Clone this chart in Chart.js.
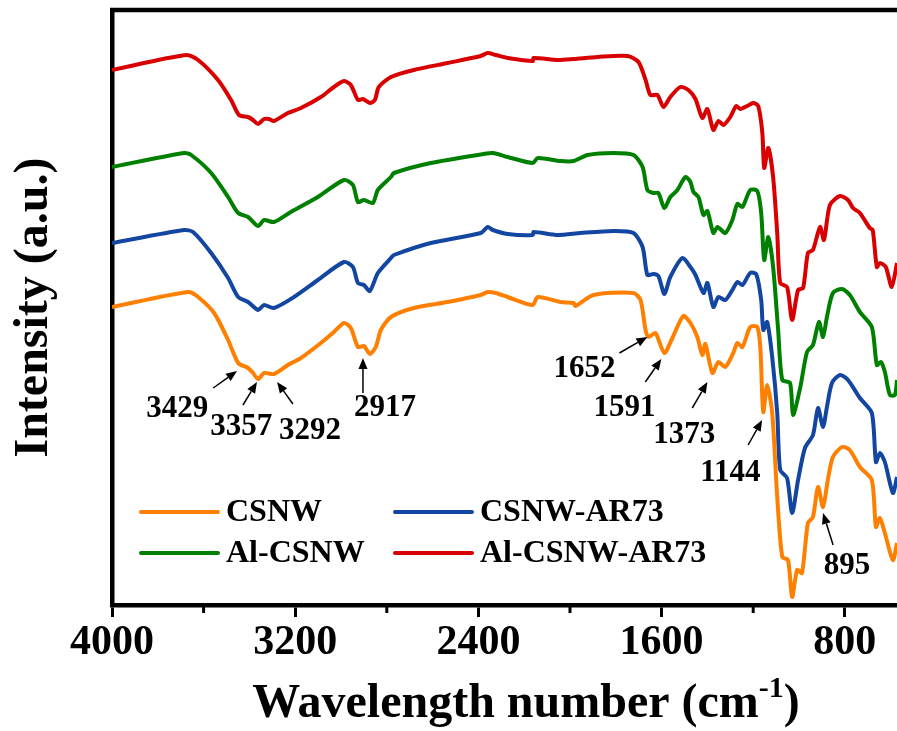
<!DOCTYPE html>
<html>
<head>
<meta charset="utf-8">
<script src="https://cdn.jsdelivr.net/npm/chart.js@4.4.1/dist/chart.umd.min.js"></script>
<style>
  html, body { margin: 0; padding: 0; background: #fff; }
</style>
</head>
<body>
<canvas id="ftirChart" width="897" height="731"></canvas>
<script>
// tick values on the wavenumber axis (labels only every 800)
const wavenumberTicks = [4000, 3600, 3200, 2800, 2400, 2000, 1600, 1200, 800];

// spectra (wavenumber cm-1 / intensity a.u.)
const csnwWave = [4000, 3667, 3624, 3554, 3493, 3449, 3406, 3384, 3362, 3336, 3293, 3232, 3175, 3088, 3031, 2987, 2957, 2926, 2900, 2874, 2848, 2826, 2782, 2682, 2534, 2390, 2359, 2324, 2272, 2163, 2141, 2041, 1984, 1976, 1897, 1723, 1692, 1670, 1657, 1627, 1588, 1553, 1505, 1474, 1444, 1422, 1409, 1378, 1352, 1322, 1287, 1269, 1247, 1213, 1182, 1169, 1156, 1139, 1117, 1095, 1073, 1048, 1030, 1008, 987, 961, 939, 917, 895, 874, 852, 812, 778, 734, 682, 664, 647, 625, 590, 572];
const csnwInt = [298, 313, 308, 292, 265, 242, 237, 232, 226, 232, 231, 240, 247, 262, 273, 282, 277, 258, 259, 251, 258, 275, 288, 297, 303, 310, 313, 312, 308, 300, 308, 303, 302, 299, 310, 312, 305, 275, 268, 272, 252, 267, 289, 282, 268, 250, 261, 232, 243, 238, 252, 262, 258, 278, 278, 258, 193, 220, 192, 108, 48, 45, 8, 35, 32, 82, 88, 118, 98, 125, 148, 158, 155, 138, 125, 78, 87, 72, 45, 62];

const ar73Wave = [4000, 3685, 3646, 3567, 3493, 3449, 3406, 3362, 3336, 3293, 3205, 3101, 2987, 2948, 2926, 2900, 2874, 2839, 2782, 2769, 2608, 2390, 2359, 2337, 2272, 2163, 2159, 2054, 1954, 1810, 1723, 1683, 1662, 1636, 1614, 1588, 1562, 1509, 1474, 1452, 1417, 1400, 1374, 1352, 1322, 1291, 1269, 1247, 1213, 1187, 1165, 1156, 1139, 1117, 1095, 1082, 1052, 1030, 1004, 974, 939, 917, 895, 878, 856, 821, 786, 734, 682, 664, 647, 625, 590, 572];
const ar73Int = [362, 375, 373, 352, 327, 308, 303, 295, 300, 297, 308, 325, 343, 338, 322, 320, 314, 332, 347, 350, 362, 372, 378, 375, 371, 370, 373, 370, 372, 374, 372, 358, 330, 331, 329, 311, 328, 347, 338, 330, 312, 322, 298, 308, 305, 315, 323, 320, 332, 331, 305, 275, 283, 248, 192, 135, 127, 92, 125, 157, 170, 197, 178, 198, 222, 230, 225, 207, 192, 143, 152, 143, 112, 128];

const alWave = [4000, 3685, 3654, 3567, 3493, 3449, 3406, 3362, 3336, 3293, 3219, 3101, 2987, 2948, 2926, 2900, 2861, 2839, 2782, 2769, 2608, 2377, 2337, 2272, 2163, 2141, 2041, 1984, 1923, 1810, 1723, 1683, 1662, 1636, 1614, 1588, 1562, 1531, 1496, 1474, 1461, 1439, 1417, 1400, 1374, 1356, 1322, 1291, 1269, 1247, 1213, 1182, 1165, 1152, 1134, 1113, 1091, 1073, 1039, 1026, 995, 965, 939, 913, 895, 878, 852, 812, 778, 734, 682, 660, 642, 625, 603, 581, 572];
const alInt = [438, 452, 450, 432, 408, 392, 388, 379, 385, 383, 393, 408, 425, 420, 403, 405, 402, 415, 428, 432, 442, 451, 452, 448, 442, 447, 444, 444, 450, 452, 450, 438, 415, 412, 412, 397, 408, 415, 428, 423, 413, 408, 390, 394, 372, 378, 372, 385, 401, 398, 415, 414, 392, 345, 368, 338, 275, 225, 222, 190, 217, 253, 260, 283, 268, 288, 312, 316, 310, 293, 278, 240, 243, 233, 210, 210, 225];

const alAr73Wave = [4000, 3676, 3624, 3537, 3480, 3445, 3406, 3384, 3362, 3336, 3314, 3293, 3232, 3175, 3088, 3031, 2987, 2957, 2926, 2904, 2874, 2852, 2835, 2782, 2682, 2534, 2390, 2359, 2324, 2272, 2163, 2159, 2054, 1984, 1880, 1749, 1701, 1670, 1649, 1618, 1592, 1562, 1518, 1483, 1452, 1422, 1400, 1374, 1352, 1330, 1300, 1274, 1256, 1226, 1200, 1178, 1160, 1152, 1134, 1113, 1095, 1082, 1052, 1030, 1004, 982, 961, 939, 908, 891, 865, 821, 786, 764, 734, 691, 678, 660, 647, 621, 595, 572];
const alAr73Int = [535, 550, 545, 525, 505, 490, 488, 485, 481, 486, 486, 484, 492, 497, 508, 518, 524, 520, 505, 506, 502, 505, 518, 528, 535, 542, 549, 552, 550, 547, 544, 547, 545, 546, 548, 549, 543, 525, 510, 510, 498, 508, 518, 515, 506, 487, 496, 475, 484, 480, 488, 499, 496, 499, 502, 499, 472, 437, 457, 428, 372, 322, 318, 285, 315, 317, 352, 355, 378, 365, 400, 409, 405, 397, 392, 377, 375, 338, 342, 338, 318, 342];

const seriesLabels = ['CSNW', 'CSNW-AR73', 'Al-CSNW', 'Al-CSNW-AR73'];
const seriesColors = ['#ff8000', '#1246a0', '#008000', '#d80000'];

// peak labels: [text, label wavenumber, label intensity, arrow tail w, tail i, arrow tip w, tip i]
const peakNotes = [
  ['3429', 3715, 196, 3558, 217, 3454, 234],
  ['3357', 3436, 178, 3428, 200, 3367, 223],
  ['3292', 3135, 174, 3210, 201, 3279, 223],
  ['2917', 2808, 197, 2904, 212, 2904, 247],
  ['1652', 1937, 236, 1784, 252, 1662, 268],
  ['1591', 1762, 197, 1671, 223, 1601, 246],
  ['1373', 1501, 170, 1466, 197, 1400, 223],
  ['1144', 1300, 132, 1222, 160, 1161, 185],
  ['895', 790, 39, 851, 60, 895, 92]
];

const serif = "'Liberation Serif', 'Times New Roman', serif";

function toPoints(ws, vs) {
  return ws.map((w, i) => ({ x: w, y: vs[i] }));
}

const seriesData = [
  toPoints(csnwWave, csnwInt),
  toPoints(ar73Wave, ar73Int),
  toPoints(alWave, alInt),
  toPoints(alAr73Wave, alAr73Int)
];

// frame, minor ticks, x title, legend and peak notes
const decorPlugin = {
  id: 'decor',
  afterDraw(chart) {
    const ctx = chart.ctx;
    const a = chart.chartArea;
    const xs = chart.scales.x;
    const ys = chart.scales.y;
    ctx.save();

    // top spine
    ctx.strokeStyle = '#000';
    ctx.lineWidth = 4.5;
    ctx.beginPath();
    ctx.moveTo(a.left - 2, a.top);
    ctx.lineTo(a.right, a.top);
    ctx.stroke();

    // minor ticks
    ctx.lineWidth = 3;
    wavenumberTicks.filter(v => v % 800 !== 0).forEach(v => {
      const px = xs.getPixelForValue(v);
      ctx.beginPath();
      ctx.moveTo(px, a.bottom);
      ctx.lineTo(px, a.bottom + 8);
      ctx.stroke();
    });

    // x title with superscript
    ctx.fillStyle = '#000';
    ctx.textBaseline = 'alphabetic';
    const mainFont = 'bold 48px ' + serif;
    const supFont = 'bold 30px ' + serif;
    const t1 = 'Wavelength number (cm';
    const t2 = '-1';
    const t3 = ')';
    ctx.font = mainFont;
    const w1 = ctx.measureText(t1).width;
    const w3 = ctx.measureText(t3).width;
    ctx.font = supFont;
    const w2 = ctx.measureText(t2).width;
    let tx = 526 - (w1 + w2 + w3) / 2;
    const base = 717;
    ctx.font = mainFont;
    ctx.fillText(t1, tx, base);
    tx += w1;
    ctx.font = supFont;
    ctx.fillText(t2, tx, base - 20);
    tx += w2;
    ctx.font = mainFont;
    ctx.fillText(t3, tx, base);

    // legend
    const legendPos = [[141, 512], [395, 512], [141, 553], [395, 553]];
    ctx.font = 'bold 32px ' + serif;
    ctx.textBaseline = 'middle';
    ctx.lineCap = 'round';
    chart.data.datasets.forEach((ds, i) => {
      const [lx, ly] = legendPos[i];
      ctx.strokeStyle = ds.borderColor;
      ctx.lineWidth = 4;
      ctx.beginPath();
      ctx.moveTo(lx, ly);
      ctx.lineTo(lx + 77, ly);
      ctx.stroke();
      ctx.fillStyle = '#000';
      ctx.fillText(ds.label, lx + 85, ly + 1);
    });

    // peak notes with arrows
    ctx.lineCap = 'butt';
    ctx.font = 'bold 31px ' + serif;
    ctx.textAlign = 'center';
    ctx.textBaseline = 'middle';
    peakNotes.forEach(n => {
      const lx = xs.getPixelForValue(n[1]);
      const ly = ys.getPixelForValue(n[2]);
      const x0 = xs.getPixelForValue(n[3]);
      const y0 = ys.getPixelForValue(n[4]);
      const x1 = xs.getPixelForValue(n[5]);
      const y1 = ys.getPixelForValue(n[6]);
      ctx.fillStyle = '#000';
      ctx.fillText(n[0], lx, ly);
      const ang = Math.atan2(y1 - y0, x1 - x0);
      const head = 11;
      const half = 4.5;
      const bx = x1 - head * Math.cos(ang);
      const by = y1 - head * Math.sin(ang);
      ctx.strokeStyle = '#000';
      ctx.lineWidth = 1.5;
      ctx.beginPath();
      ctx.moveTo(x0, y0);
      ctx.lineTo(bx, by);
      ctx.stroke();
      ctx.beginPath();
      ctx.moveTo(x1, y1);
      ctx.lineTo(bx + half * Math.sin(ang), by - half * Math.cos(ang));
      ctx.lineTo(bx - half * Math.sin(ang), by + half * Math.cos(ang));
      ctx.closePath();
      ctx.fill();
    });

    ctx.restore();
  }
};

new Chart(document.getElementById('ftirChart'), {
  type: 'line',
  data: {
    datasets: seriesLabels.map((label, i) => ({
      label: label,
      data: seriesData[i],
      borderColor: seriesColors[i],
      borderWidth: 4,
      pointRadius: 0,
      tension: 0.25,
      fill: false
    }))
  },
  options: {
    responsive: false,
    animation: false,
    layout: { padding: { top: 10, left: 0, right: 0, bottom: 0 } },
    plugins: {
      legend: { display: false },
      tooltip: { enabled: false }
    },
    scales: {
      x: {
        type: 'linear',
        reverse: true,
        min: 572,
        max: 4000,
        afterFit: (scale) => { scale.height = 126; },
        afterBuildTicks: (scale) => {
          scale.ticks = wavenumberTicks.map(v => ({ value: v }));
        },
        border: { display: true, color: '#000', width: 4.5 },
        grid: {
          display: true,
          drawOnChartArea: false,
          drawTicks: true,
          tickLength: 12,
          tickWidth: 3,
          tickColor: (c) => (c.tick && c.tick.value % 800 === 0) ? '#000' : 'rgba(0,0,0,0)'
        },
        ticks: {
          autoSkip: false,
          maxRotation: 0,
          padding: 1,
          color: '#000',
          font: { family: serif, size: 42, weight: 'bold' },
          callback: (v) => (v % 800 === 0 ? String(v) : '')
        }
      },
      y: {
        type: 'linear',
        min: 0,
        max: 595,
        afterFit: (scale) => { scale.width = 112; },
        border: { display: true, color: '#000', width: 4.5 },
        grid: { display: false },
        ticks: { display: false },
        title: {
          display: true,
          text: 'Intensity (a.u.)',
          color: '#000',
          font: { family: serif, size: 48, weight: 'bold' },
          padding: { top: 6, bottom: 0 }
        }
      }
    }
  },
  plugins: [decorPlugin]
});
</script>
</body>
</html>
